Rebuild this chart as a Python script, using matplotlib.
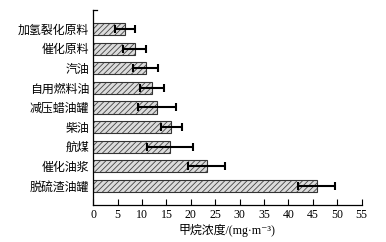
import matplotlib
matplotlib.use("Agg")
from matplotlib import pyplot as plt

plt.rcParams['font.family'] = ['Liberation Serif', 'Noto Sans CJK SC', 'DejaVu Serif']
plt.rcParams['hatch.linewidth'] = 0.6

# top to bottom as in the picture
categories = ['加氢裂化原料', '催化原料', '汽油', '自用燃料油', '减压蜡油罐',
              '柴油', '航煤', '催化油浆', '脱硫渣油罐']
means = [6.5, 8.5, 10.7, 12.0, 13.0, 16.0, 15.8, 23.2, 45.8]
errors = [2.0, 2.4, 2.5, 2.4, 3.9, 2.2, 4.7, 3.7, 3.8]
xticks = list(range(0, 56, 5))

# bottom category goes at y=0
cats = categories[::-1]
vals = means[::-1]
errs = errors[::-1]
ypos = list(range(len(cats)))

fig = plt.figure(figsize=(3.86, 2.42), dpi=100)
ax = fig.add_axes([0.2417, 0.1529, 0.6953, 0.8058])

ax.barh(ypos, vals, height=0.62, color='#dcdcdc', edgecolor='#444444',
        hatch='//////', linewidth=0)
ax.barh(ypos, vals, height=0.62, fill=False, edgecolor='#333333', linewidth=0.8)
ax.errorbar(vals, ypos, xerr=errs, fmt='none', ecolor='black',
            elinewidth=1.5, capsize=3.2, capthick=1.5)

ax.set_xlim(0, 55)
ax.set_ylim(-0.97, 8.97)
ax.set_xticks(xticks)
ax.set_yticks(ypos)
ax.set_yticklabels(cats, fontsize=8.6)
ax.tick_params(axis='y', length=0, pad=3)
ax.tick_params(axis='x', direction='in', length=4, width=0.8, labelsize=8.6, pad=3)

ax.spines['top'].set_visible(False)
ax.spines['right'].set_visible(False)
ax.spines['left'].set_linewidth(0.9)
ax.spines['bottom'].set_linewidth(0.9)
# small tick at the top of the left spine
ax.plot([0, 0.012], [1, 1], transform=ax.transAxes, color='black',
        linewidth=0.9, clip_on=False)

ax.set_xlabel('甲烷浓度/(mg·m⁻³)', fontsize=8.6, labelpad=2)

fig.savefig('out.png', dpi=100, facecolor='white')
